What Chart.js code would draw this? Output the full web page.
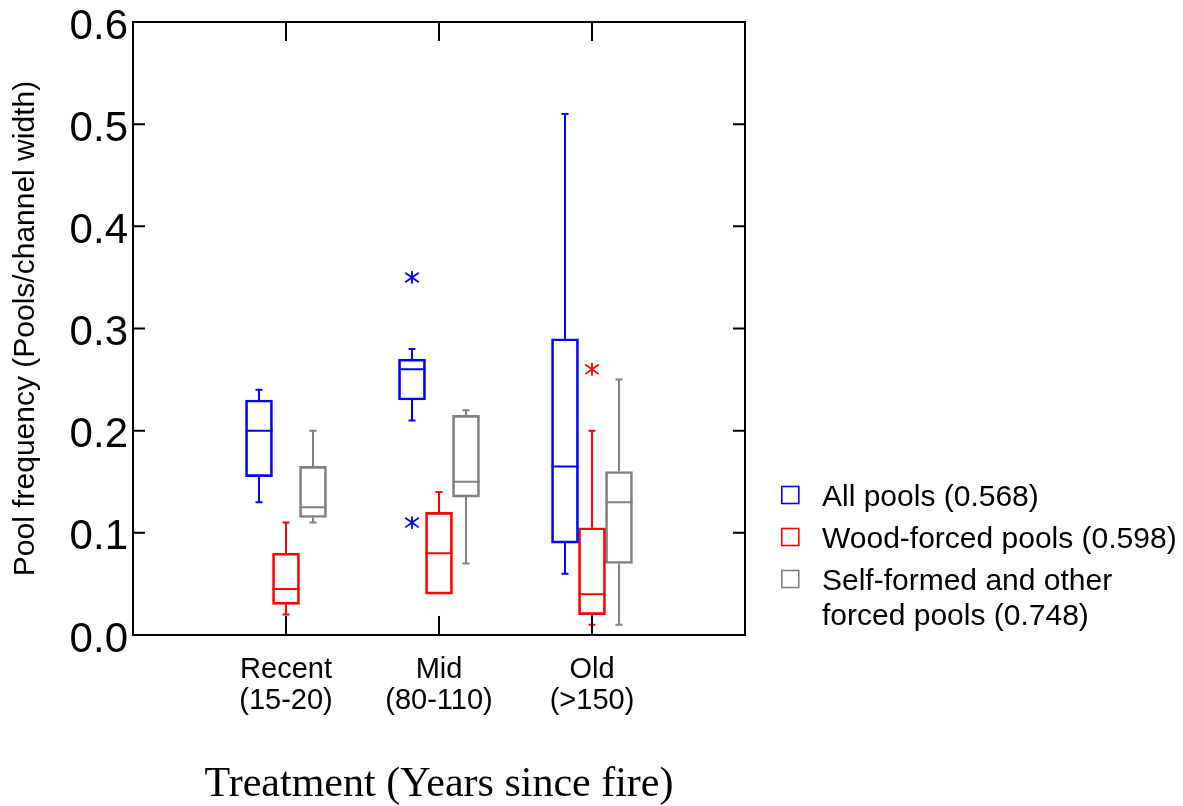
<!DOCTYPE html>
<html>
<head>
<meta charset="utf-8">
<script src="https://cdn.jsdelivr.net/npm/chart.js@4.4.0/dist/chart.umd.min.js"></script>
<style>
  html, body { margin: 0; padding: 0; background: #fff; }
  #wrap { width: 1183px; height: 806px; position: relative; }
</style>
</head>
<body>
<div id="wrap"><canvas id="poolChart"></canvas></div>
<script>
// groups sit at 1/4, 2/4, 3/4 of the axis, so empty slots at both ends
const categories = [[''], ['Recent', '(15-20)'], ['Mid', '(80-110)'], ['Old', '(>150)'], ['']];
const yTicks = [0, 0.1, 0.2, 0.3, 0.4, 0.5, 0.6];

// [low whisker, q1, median, q3, high whisker] per group
const allPools   = [null, [0.13, 0.155, 0.20, 0.23, 0.24], [0.21, 0.23, 0.26, 0.27, 0.28], [0.06, 0.09, 0.165, 0.29, 0.51], null];
const woodForced = [null, [0.02, 0.03, 0.045, 0.08, 0.11], [0.04, 0.04, 0.08, 0.12, 0.14], [0.01, 0.02, 0.04, 0.105, 0.20], null];
const selfFormed = [null, [0.11, 0.115, 0.125, 0.165, 0.20], [0.07, 0.135, 0.15, 0.215, 0.22], [0.01, 0.07, 0.13, 0.16, 0.25], null];

// outliers (asterisks) per group
const allPoolsOut   = [[], [], [0.35, 0.11], [], []];
const woodForcedOut = [[], [], [], [0.26], []];
const selfFormedOut = [[], [], [], [], []];

const seriesNames = ['All pools (0.568)', 'Wood-forced pools (0.598)', ['Self-formed and other', 'forced pools (0.748)']];
const seriesColors = ['#0000ff', '#ff0000', '#808080'];

const sansFont = '"Liberation Sans", Arial, Helvetica, sans-serif';
Chart.defaults.color = '#000';

function makeSeries(name, color, stats, outliers) {
    return {
        label: Array.isArray(name) ? name.join(' ') : name,
        data: stats.map(s => s ? [s[1], s[3]] : null),
        stats: stats,
        outliers: outliers,
        borderColor: color,
        backgroundColor: 'rgba(0,0,0,0)',
        borderWidth: 2,
        borderSkipped: false,
        barThickness: 27
    };
}

function drawAsterisk(ctx, x, y) {
    const rv = 6.3, rd = 8.3, a = 35 * Math.PI / 180;
    const dx = rd * Math.cos(a), dy = rd * Math.sin(a);
    ctx.beginPath();
    ctx.moveTo(x, y - rv); ctx.lineTo(x, y + rv);
    ctx.moveTo(x - dx, y - dy); ctx.lineTo(x + dx, y + dy);
    ctx.moveTo(x - dx, y + dy); ctx.lineTo(x + dx, y - dy);
    ctx.stroke();
}

// frame round the plot plus inward tick marks on all four sides
const frameTicks = {
    id: 'frameTicks',
    afterDraw(chart) {
        const { ctx, chartArea: a, scales } = chart;
        ctx.save();
        ctx.strokeStyle = '#000';
        ctx.lineWidth = 2;
        ctx.strokeRect(a.left, a.top, a.right - a.left, a.bottom - a.top);
        ctx.beginPath();
        yTicks.forEach(v => {
            const py = scales.y.getPixelForValue(v);
            ctx.moveTo(a.left, py); ctx.lineTo(a.left + 12, py);
            ctx.moveTo(a.right, py); ctx.lineTo(a.right - 12, py);
        });
        categories.forEach((c, i) => {
            if (!c[0]) return;
            const px = scales.x.getPixelForValue(i);
            ctx.moveTo(px, a.bottom); ctx.lineTo(px, a.bottom - 19);
            ctx.moveTo(px, a.top); ctx.lineTo(px, a.top + 19);
        });
        ctx.stroke();
        ctx.restore();
    }
};

// medians, whiskers and outliers on top of the floating bars
const boxExtras = {
    id: 'boxExtras',
    afterDatasetsDraw(chart) {
        const ctx = chart.ctx;
        const yScale = chart.scales.y;
        ctx.save();
        chart.data.datasets.forEach((ds, i) => {
            const meta = chart.getDatasetMeta(i);
            meta.data.forEach((bar, j) => {
                const s = ds.stats[j];
                if (!s) return;
                const half = bar.width / 2;
                const pLo = yScale.getPixelForValue(s[0]);
                const pQ1 = yScale.getPixelForValue(s[1]);
                const pMed = yScale.getPixelForValue(s[2]);
                const pQ3 = yScale.getPixelForValue(s[3]);
                const pHi = yScale.getPixelForValue(s[4]);
                ctx.strokeStyle = ds.borderColor;
                ctx.lineWidth = 2;
                ctx.beginPath();
                ctx.moveTo(bar.x - half, pMed); ctx.lineTo(bar.x + half, pMed);
                if (s[4] > s[3]) {
                    ctx.moveTo(bar.x, pQ3); ctx.lineTo(bar.x, pHi);
                    ctx.moveTo(bar.x - 3.5, pHi); ctx.lineTo(bar.x + 3.5, pHi);
                }
                if (s[0] < s[1]) {
                    ctx.moveTo(bar.x, pQ1); ctx.lineTo(bar.x, pLo);
                    ctx.moveTo(bar.x - 3.5, pLo); ctx.lineTo(bar.x + 3.5, pLo);
                }
                ctx.stroke();
                ctx.lineWidth = 1.8;
                ds.outliers[j].forEach(v => drawAsterisk(ctx, bar.x, yScale.getPixelForValue(v)));
            });
        });
        ctx.restore();
    }
};

// legend to the right of the plot
const sideLegend = {
    id: 'sideLegend',
    afterDraw(chart) {
        const { ctx, chartArea } = chart;
        const x0 = chartArea.right + 36;
        let base = chartArea.bottom - 129;
        ctx.save();
        ctx.font = '30px ' + sansFont;
        ctx.textBaseline = 'alphabetic';
        ctx.fillStyle = '#000';
        seriesNames.forEach((name, i) => {
            const lines = Array.isArray(name) ? name : [name];
            ctx.strokeStyle = seriesColors[i];
            ctx.lineWidth = 1.6;
            ctx.strokeRect(x0 + 0.8, base - 19.5, 17, 17);
            lines.forEach((ln, k) => ctx.fillText(ln, x0 + 41, base + k * 35));
            base += 42 + (lines.length - 1) * 35;
        });
        ctx.restore();
    }
};

new Chart(document.getElementById('poolChart'), {
    type: 'bar',
    data: {
        labels: categories,
        datasets: [
            makeSeries(seriesNames[0], seriesColors[0], allPools, allPoolsOut),
            makeSeries(seriesNames[1], seriesColors[1], woodForced, woodForcedOut),
            makeSeries(seriesNames[2], seriesColors[2], selfFormed, selfFormedOut)
        ]
    },
    options: {
        responsive: true,
        maintainAspectRatio: false,
        animation: false,
        devicePixelRatio: 1,
        layout: { padding: { top: 22, right: 438, bottom: 0, left: 0 } },
        plugins: {
            legend: { display: false },
            tooltip: { enabled: false }
        },
        scales: {
            x: {
                offset: false,
                grid: { display: false, drawTicks: false },
                border: { display: false },
                ticks: {
                    autoSkip: false,
                    maxRotation: 0,
                    minRotation: 0,
                    padding: 19,
                    color: '#000',
                    font: { family: sansFont, size: 29, lineHeight: 1.08 }
                },
                title: {
                    display: true,
                    text: 'Treatment (Years since fire)',
                    color: '#000',
                    padding: 0,
                    font: { family: '"Liberation Serif", "Times New Roman", serif', size: 42, lineHeight: 1 }
                },
                afterFit: s => { s.height = 171; }
            },
            y: {
                min: 0,
                max: 0.6,
                grid: { display: false, drawTicks: false },
                border: { display: false },
                afterBuildTicks: s => { s.ticks = yTicks.map(v => ({ value: v })); },
                ticks: {
                    padding: 5,
                    labelOffset: 5,
                    color: '#000',
                    font: { family: sansFont, size: 42, lineHeight: 0.7 },
                    callback: v => Number(v).toFixed(1)
                },
                title: {
                    display: true,
                    text: 'Pool frequency (Pools/channel width)',
                    color: '#000',
                    padding: { top: 8, bottom: 0 },
                    font: { family: sansFont, size: 30, lineHeight: 1.2 }
                },
                afterFit: s => { s.width = 133; }
            }
        }
    },
    plugins: [frameTicks, boxExtras, sideLegend]
});
</script>
</body>
</html>
